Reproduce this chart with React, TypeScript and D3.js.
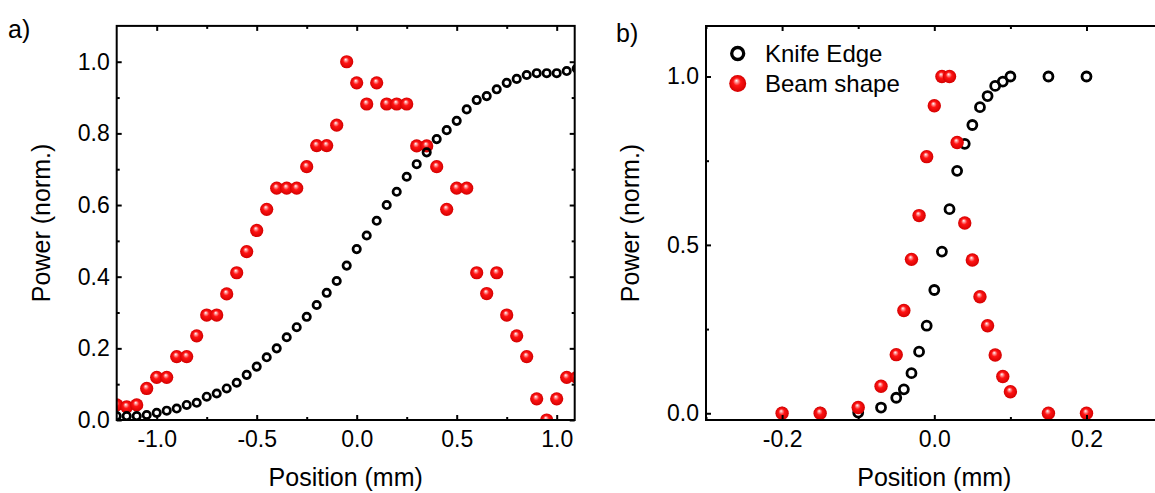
import React, { useEffect, useRef } from 'react';
import * as d3 from 'd3';

// panel a) wide scan, step 0.05 mm
const posA = [
  -1.2, -1.15, -1.1, -1.05, -1.0, -0.95, -0.9, -0.85, -0.8, -0.75, -0.7, -0.65, -0.6, -0.55, -0.5,
  -0.45, -0.4, -0.35, -0.3, -0.25, -0.2, -0.15, -0.1, -0.05, 0.0, 0.05, 0.1, 0.15, 0.2, 0.25, 0.3,
  0.35, 0.4, 0.45, 0.5, 0.55, 0.6, 0.65, 0.7, 0.75, 0.8, 0.85, 0.9, 0.95, 1.0, 1.05, 1.1,
];
const knifeA = [
  0.011, 0.011, 0.011, 0.014, 0.02, 0.026, 0.032, 0.042, 0.048, 0.065, 0.074, 0.088, 0.104, 0.126, 0.149,
  0.175, 0.2, 0.231, 0.259, 0.288, 0.321, 0.355, 0.388, 0.431, 0.477, 0.515, 0.556, 0.6, 0.637, 0.679, 0.714,
  0.747, 0.784, 0.809, 0.835, 0.867, 0.893, 0.904, 0.923, 0.941, 0.952, 0.963, 0.968, 0.968, 0.968, 0.974, 0.981,
];
const beamA = [
  0.042, 0.037, 0.042, 0.088, 0.119, 0.119, 0.177, 0.177, 0.235, 0.293, 0.293, 0.352, 0.411, 0.47, 0.529,
  0.588, 0.647, 0.647, 0.647, 0.707, 0.766, 0.766, 0.823, 1.0, 0.941, 0.882, 0.941, 0.882, 0.882, 0.882, 0.765,
  0.765, 0.707, 0.588, 0.647, 0.647, 0.411, 0.353, 0.411, 0.293, 0.235, 0.177, 0.059, 0.0, 0.059, 0.119, 0.119,
];

// panel b) fine scan
const posB = [
  -0.2, -0.15, -0.1, -0.07, -0.05, -0.04, -0.03, -0.02, -0.01, 0.0, 0.01,
  0.02, 0.03, 0.04, 0.05, 0.06, 0.07, 0.08, 0.09, 0.1, 0.15, 0.2,
];
const knifeB = [
  0.002, 0.002, 0.002, 0.017, 0.046, 0.071, 0.119, 0.183, 0.26, 0.366, 0.48,
  0.606, 0.72, 0.8, 0.856, 0.909, 0.942, 0.972, 0.985, 1.0, 1.0, 1.0,
];
const beamB = [
  0.0, 0.0, 0.017, 0.08, 0.174, 0.305, 0.457, 0.587, 0.762, 0.913, 1.0,
  1.0, 0.804, 0.565, 0.455, 0.346, 0.26, 0.173, 0.109, 0.064, 0.0, 0.0,
];

const xTicksA = [-1.0, -0.5, 0.0, 0.5, 1.0];
const yTicksA = [0.0, 0.2, 0.4, 0.6, 0.8, 1.0];
const xTicksB = [-0.2, 0.0, 0.2];
const yTicksB = [0.0, 0.5, 1.0];
const legendNames = ['Knife Edge', 'Beam shape'];

const FONT = '"Liberation Sans", Arial, sans-serif';
// plain hyphen for negatives, like the original
const fmt1 = (d: any) => d3.format('.1f')(d).replace('\u2212', '-');

function App() {
  const ref = useRef<SVGSVGElement>(null);

  useEffect(() => {
    const svg = d3.select(ref.current);
    svg.selectAll('*').remove();

    const defs = svg.append('defs');
    const grad = defs.append('radialGradient')
      .attr('id', 'ball')
      .attr('cx', '50%').attr('cy', '50%').attr('r', '50%')
      .attr('fx', '42%').attr('fy', '32%');
    grad.append('stop').attr('offset', '0%').attr('stop-color', '#ffffff');
    grad.append('stop').attr('offset', '20%').attr('stop-color', '#ff9090');
    grad.append('stop').attr('offset', '45%').attr('stop-color', '#ff1414');
    grad.append('stop').attr('offset', '100%').attr('stop-color', '#d40000');

    const panel = (opts: any) => {
      const { id, x, y, xTicks, xMinor, yTicks, yMinor, knife, beam, pos, rOpen, swOpen, rBall, redOnTop } = opts;
      const [x0, x1] = x.range();
      const [y0, y1] = y.range();

      defs.append('clipPath').attr('id', id)
        .append('rect').attr('x', x0).attr('y', y1).attr('width', x1 - x0).attr('height', y0 - y1);

      const g = svg.append('g').style('font-family', FONT);

      const drawKnife = () => g.append('g').attr('clip-path', `url(#${id})`)
        .selectAll('circle.k').data(pos).enter().append('circle')
        .attr('cx', (d: number) => x(d))
        .attr('cy', (_: number, i: number) => y(knife[i]))
        .attr('r', rOpen)
        .attr('fill', 'none')
        .attr('stroke', '#000')
        .attr('stroke-width', swOpen);

      const drawBeam = () => g.append('g').attr('clip-path', `url(#${id})`)
        .selectAll('circle.b').data(pos).enter().append('circle')
        .attr('cx', (d: number) => x(d))
        .attr('cy', (_: number, i: number) => y(beam[i]))
        .attr('r', rBall)
        .attr('fill', 'url(#ball)');

      if (redOnTop) { drawKnife(); drawBeam(); } else { drawBeam(); drawKnife(); }

      // frame
      g.append('rect')
        .attr('x', x0).attr('y', y1).attr('width', x1 - x0).attr('height', y0 - y1)
        .attr('fill', 'none').attr('stroke', '#000').attr('stroke-width', 2);

      const strip = (sel: any) => {
        sel.select('.domain').remove();
        sel.selectAll('line').attr('stroke', '#000').attr('stroke-width', 2);
        sel.selectAll('text').attr('fill', '#000').style('font-size', '23px').style('font-family', FONT);
      };

      // bottom / top
      g.append('g').attr('transform', `translate(0,${y0})`)
        .call(d3.axisBottom(x).tickValues(xTicks).tickSize(-5).tickPadding(10.5).tickFormat(fmt1))
        .call(strip);
      g.append('g').attr('transform', `translate(0,${y0})`)
        .call(d3.axisBottom(x).tickValues(xMinor).tickSize(-3).tickFormat(() => ''))
        .call(strip);
      g.append('g').attr('transform', `translate(0,${y1})`)
        .call(d3.axisTop(x).tickValues(xTicks).tickSize(-5).tickFormat(() => ''))
        .call(strip);
      g.append('g').attr('transform', `translate(0,${y1})`)
        .call(d3.axisTop(x).tickValues(xMinor).tickSize(-3).tickFormat(() => ''))
        .call(strip);

      // left / right
      g.append('g').attr('transform', `translate(${x0},0)`)
        .call(d3.axisLeft(y).tickValues(yTicks).tickSize(-5).tickPadding(7).tickFormat(fmt1))
        .call(strip);
      g.append('g').attr('transform', `translate(${x0},0)`)
        .call(d3.axisLeft(y).tickValues(yMinor).tickSize(-3).tickFormat(() => ''))
        .call(strip);
      g.append('g').attr('transform', `translate(${x1},0)`)
        .call(d3.axisRight(y).tickValues(yTicks).tickSize(-5).tickFormat(() => ''))
        .call(strip);
      g.append('g').attr('transform', `translate(${x1},0)`)
        .call(d3.axisRight(y).tickValues(yMinor).tickSize(-3).tickFormat(() => ''))
        .call(strip);

      return g;
    };

    // ---- panel a
    const xA = d3.scaleLinear().domain([-1.2, 1.09]).range([116.7, 574.7]);
    const yA = d3.scaleLinear().domain([0, 1.1]).range([420, 25.9]);
    panel({
      id: 'clipA', x: xA, y: yA,
      xTicks: xTicksA, xMinor: [-0.75, -0.25, 0.25, 0.75],
      yTicks: yTicksA, yMinor: [0.1, 0.3, 0.5, 0.7, 0.9],
      pos: posA, knife: knifeA, beam: beamA,
      rOpen: 3.7, swOpen: 2.7, rBall: 6.6, redOnTop: false,
    });

    // ---- panel b
    const xB = d3.scaleLinear().domain([-0.3, 0.3]).range([706, 1162.6]);
    const yB = d3.scaleLinear().domain([-0.02, 1.15]).range([420, 26]);
    panel({
      id: 'clipB', x: xB, y: yB,
      xTicks: xTicksB, xMinor: [-0.3, -0.1, 0.1, 0.3],
      yTicks: yTicksB, yMinor: [0.25, 0.75],
      pos: posB, knife: knifeB, beam: beamB,
      rOpen: 4.5, swOpen: 2.8, rBall: 6.7, redOnTop: true,
    });

    const txt = svg.append('g').style('font-family', FONT).attr('fill', '#000');

    // axis titles
    txt.append('text').attr('x', (116.7 + 574.7) / 2).attr('y', 486)
      .attr('text-anchor', 'middle').style('font-size', '25px').text('Position (mm)');
    txt.append('text').attr('x', (706 + 1162.6) / 2).attr('y', 486)
      .attr('text-anchor', 'middle').style('font-size', '25px').text('Position (mm)');
    txt.append('text').attr('transform', `translate(50,${(25.9 + 420) / 2}) rotate(-90)`)
      .attr('text-anchor', 'middle').style('font-size', '25px').text('Power (norm.)');
    txt.append('text').attr('transform', `translate(639,${(26 + 420) / 2}) rotate(-90)`)
      .attr('text-anchor', 'middle').style('font-size', '25px').text('Power (norm.)');

    // panel labels
    txt.append('text').attr('x', 8).attr('y', 38).style('font-size', '25px').text('a)');
    txt.append('text').attr('x', 616).attr('y', 42).style('font-size', '25px').text('b)');

    // legend
    const leg = svg.append('g').style('font-family', FONT);
    leg.append('circle').attr('cx', 737.7).attr('cy', 53.5).attr('r', 6)
      .attr('fill', 'none').attr('stroke', '#000').attr('stroke-width', 3.3);
    leg.append('circle').attr('cx', 737.7).attr('cy', 83.5).attr('r', 8.5)
      .attr('fill', 'url(#ball)');
    leg.selectAll('text.l').data(legendNames).enter().append('text')
      .attr('x', 765).attr('y', (_: string, i: number) => 61.5 + i * 30)
      .style('font-size', '24px').attr('fill', '#000')
      .text((d: string) => d);
  }, []);

  return (
    <svg
      ref={ref}
      width={1155}
      height={493}
      style={{ position: 'absolute', left: 0, top: 0, background: '#fff' }}
    />
  );
}

export default App;
